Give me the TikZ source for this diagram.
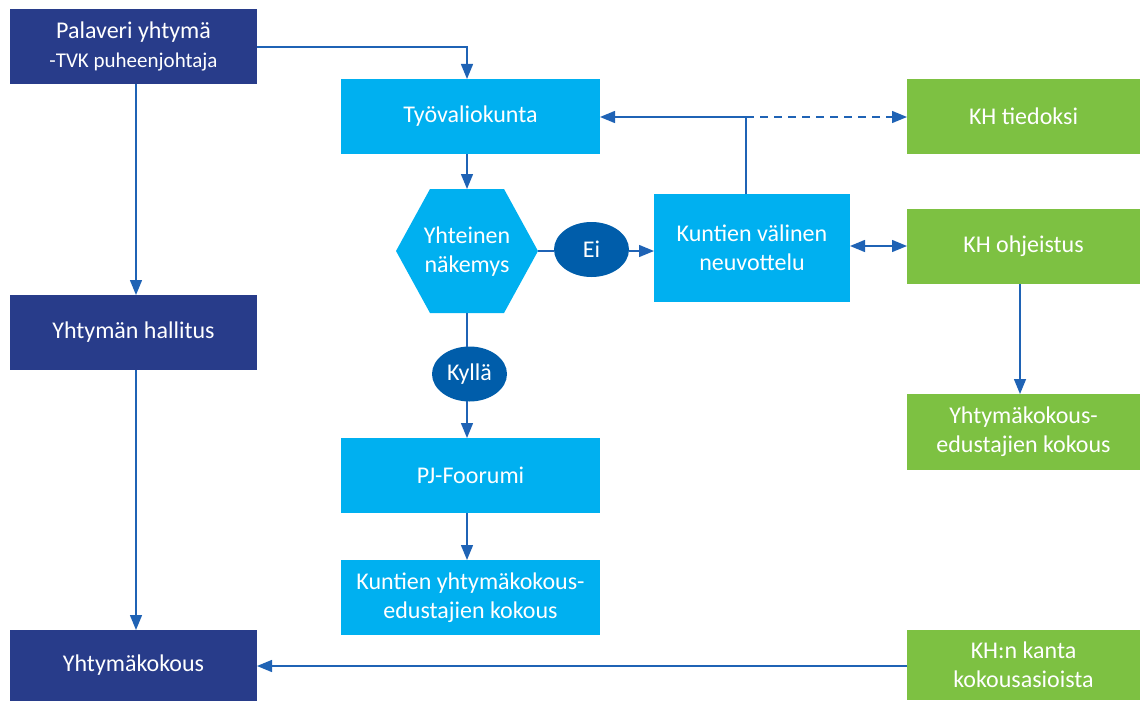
\documentclass[tikz,border=0pt]{standalone}
\usepackage{fontspec}
\setmainfont{Carlito}
\usetikzlibrary{shapes.geometric,arrows.meta}
\definecolor{dblue}{HTML}{283C8A}
\definecolor{lblue}{HTML}{00B0F0}
\definecolor{lgreen}{HTML}{7DC142}
\definecolor{eblue}{HTML}{005DAA}
\definecolor{lineb}{HTML}{1F63B5}
\begin{document}
\begin{tikzpicture}[x=1pt,y=-1pt,
  box/.style={rectangle,minimum width=#1,text=white,align=center,inner sep=0pt,font=\fontsize{24}{29}\selectfont},
  dbox/.style={box=247pt,fill=dblue,minimum height=75pt},
  lbox/.style={box=259pt,fill=lblue,minimum height=75pt},
  gbox/.style={box=233pt,fill=lgreen,minimum height=75pt},
  oval/.style={ellipse,fill=eblue,text=white,minimum width=75pt,minimum height=55pt,inner sep=0pt,font=\fontsize{24}{28}\selectfont},
  conn/.style={draw=lineb,line width=1.4pt},
  tip/.tip={Triangle[length=15pt,width=12pt]},
  arr/.style={conn,-tip},
]
\useasboundingbox (0,0) rectangle (1140,701);
\node[dbox] (pal) at (133.5,46.5) {\fontsize{24}{27}\selectfont Palaveri yhtymä\\\fontsize{21}{24}\selectfont-TVK puheenjohtaja};
\node[dbox] (hal) at (133.5,332.5) {Yhtymän hallitus};
\node[dbox,minimum height=71pt] (yk) at (133.5,665.5) {Yhtymäkokous};
\node[lbox] (tvk) at (470.5,116.5) {Työvaliokunta};
\path[fill=lblue] (396,251) -- (430,189) -- (504,189) -- (538,251) -- (504,313) -- (430,313) -- cycle;
\node[text=white,align=center,font=\fontsize{24}{29}\selectfont] (hext) at (467,252) {Yhteinen\\näkemys};
\coordinate (hexR) at (538,251);
\coordinate (hexT) at (467,189);
\coordinate (hexB) at (467,313);
\node[oval] (ei) at (591.5,249.5) {Ei};
\node[oval] (ky) at (469.5,374) {Kyllä};
\node[box=196pt,fill=lblue,minimum height=108pt] (kv) at (752,248) {Kuntien välinen\\neuvottelu};
\node[lbox] (pj) at (470.5,475.5) {PJ-Foorumi};
\node[lbox] (kyk) at (470.5,597.5) {Kuntien yhtymäkokous-\\edustajien kokous};
\node[gbox] (kht) at (1023.5,116.5) {KH tiedoksi};
\node[gbox] (kho) at (1023.5,246.5) {KH ohjeistus};
\node[gbox,minimum height=76pt] (yke) at (1023.5,432) {Yhtymäkokous-\\edustajien kokous};
\node[gbox,minimum height=70pt] (khk) at (1023.5,665) {KH:n kanta\\kokousasioista};
% connector points
\coordinate (palE) at (257,47);
\coordinate (tvkN) at (467,79);
\coordinate (palS) at (136,84);
\coordinate (halN) at (136,295);
\coordinate (halS) at (136,370);
\coordinate (ykN) at (136,630);
\coordinate (tvkS) at (467,154);
\coordinate (eiW) at (554,251);
\coordinate (eiE) at (629,251);
\coordinate (kvW) at (654,251);
\coordinate (kyN) at (467,347);
\coordinate (kyS) at (467,401);
\coordinate (pjN) at (467,438);
\coordinate (pjS) at (467,513);
\coordinate (kykN) at (467,560);
\coordinate (kvN) at (746,194);
\coordinate (junc) at (746,117);
\coordinate (tvkE) at (600,117);
\coordinate (khtW) at (907,117);
\coordinate (kvE) at (850,246);
\coordinate (khoW) at (907,246);
\coordinate (khoS) at (1020,284);
\coordinate (ykeN) at (1020,394);
\coordinate (khkW) at (907,666);
\coordinate (ykE) at (257,666);
\draw[arr] (palE) -| (tvkN);
\draw[arr] (palS) -- (halN);
\draw[arr] (halS) -- (ykN);
\draw[arr] (tvkS) -- (hexT);
\draw[conn] (hexR) -- (eiW);
\draw[arr] (eiE) -- (kvW);
\draw[conn] (hexB) -- (kyN);
\draw[arr] (kyS) -- (pjN);
\draw[arr] (pjS) -- (kykN);
\draw[conn] (kvN) -- (junc);
\draw[arr] (junc) -- (tvkE);
\draw[arr,dash pattern=on 8pt off 6pt] (junc) -- (khtW);
\draw[conn,tip-tip] (kvE) -- (khoW);
\draw[arr] (khoS) -- (ykeN);
\draw[arr] (khkW) -- (ykE);
\end{tikzpicture}
\end{document}
